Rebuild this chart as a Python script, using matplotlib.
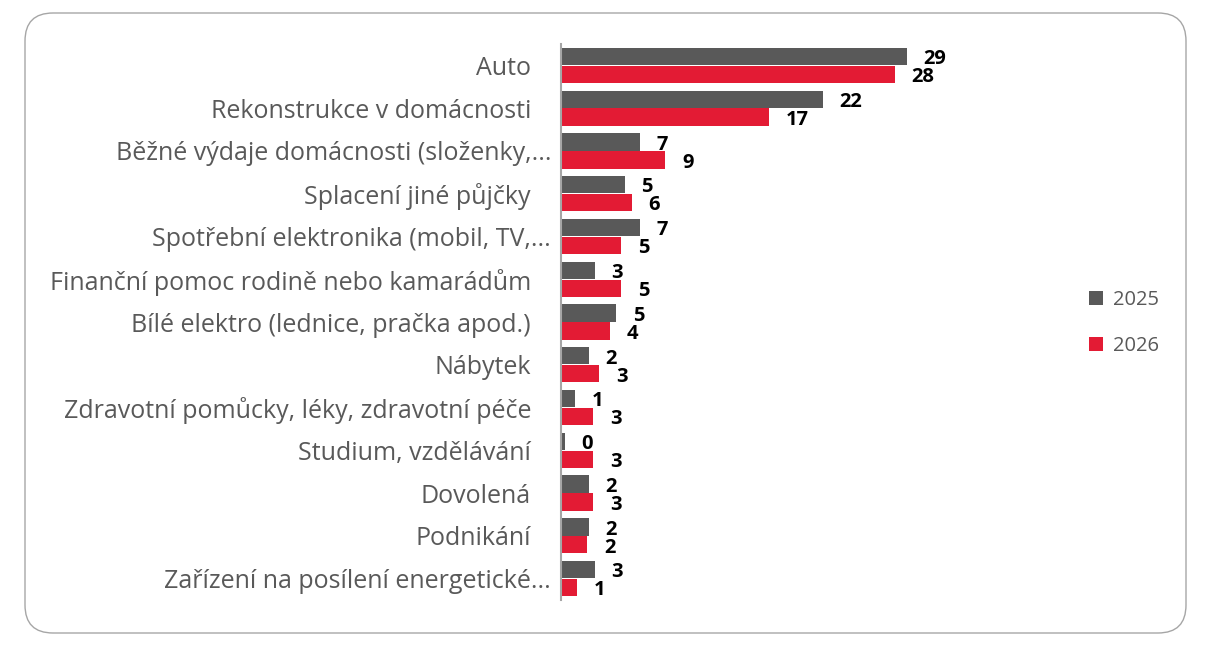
import matplotlib
matplotlib.use("Agg")
import matplotlib.pyplot as plt
from matplotlib.patches import FancyBboxPatch, Patch
from matplotlib.transforms import IdentityTransform
import numpy as np

categories = [
    "Auto",
    "Rekonstrukce v domácnosti",
    "Běžné výdaje domácnosti (složenky,...",
    "Splacení jiné půjčky",
    "Spotřební elektronika (mobil, TV,...",
    "Finanční pomoc rodině nebo kamarádům",
    "Bílé elektro (lednice, pračka apod.)",
    "Nábytek",
    "Zdravotní pomůcky, léky, zdravotní péče",
    "Studium, vzdělávání",
    "Dovolená",
    "Podnikání",
    "Zařízení na posílení energetické...",
]
values_2025 = [28.8, 21.8, 6.6, 5.3, 6.6, 2.8, 4.6, 2.3, 1.2, 0.3, 2.3, 2.3, 2.8]
values_2026 = [27.8, 17.3, 8.7, 5.9, 5.0, 5.0, 4.1, 3.2, 2.7, 2.7, 2.7, 2.2, 1.3]
series_names = ["2025", "2026"]

GRAY = "#595959"
RED = "#E31B34"
TEXT = "#595959"

W, H = 1216, 659
fig = plt.figure(figsize=(W / 100, H / 100), dpi=100)
fig.patch.set_facecolor("white")

# rounded border (pixel coordinates)
border = FancyBboxPatch((25, H - 633), 1186 - 25, 633 - 13,
                        boxstyle="round,pad=0,rounding_size=28",
                        transform=IdentityTransform(), facecolor="none",
                        edgecolor="#a6a6a6", linewidth=1.0)
fig.patches.append(border)

ax_left, ax_right = 561 / W, 1000 / W
ax_top, ax_bottom = 1 - 44 / H, 1 - 600 / H
ax = fig.add_axes([ax_left, ax_bottom, ax_right - ax_left, ax_top - ax_bottom])

y = np.arange(len(categories))
h = 0.405
b1 = ax.barh(y - 0.21, values_2025, height=h, color=GRAY, label=series_names[0])
b2 = ax.barh(y + 0.21, values_2026, height=h, color=RED, label=series_names[1])

ax.set_xlim(0, (1000 - 561) / 12.0)
ax.set_ylim(len(categories) - 0.5, -0.5)

for bars in (b1, b2):
    texts = ax.bar_label(bars, fmt="{:.0f}", padding=12, fontsize=14.5,
                         fontweight="bold", color="black", family="Open Sans")
    for t in texts:
        t.xyann = (t.xyann[0], -2)

for s in ["top", "right", "bottom"]:
    ax.spines[s].set_visible(False)
ax.spines["left"].set_color("#a6a6a6")
ax.spines["left"].set_linewidth(1.5)
ax.set_xticks([])
ax.set_yticks(y)
ax.set_yticklabels([])
ax.tick_params(axis="y", length=0)

for i, lab in enumerate(categories):
    x_off = -10 if lab.endswith("...") else -30
    ax.annotate(lab, xy=(0, i), xycoords=("axes fraction", "data"),
                xytext=(x_off, -3), textcoords="offset pixels",
                ha="right", va="center", fontsize=18, color=TEXT,
                family="Open Sans")

handles = [Patch(facecolor=GRAY), Patch(facecolor=RED)]
fig.legend(handles, series_names, loc="center left",
           bbox_to_anchor=(1071 / W, 1 - 323 / H), frameon=False,
           handlelength=0.7, handleheight=0.7, handletextpad=0.5,
           labelspacing=1.3, prop={"family": "Open Sans", "size": 14.5},
           labelcolor=TEXT)

fig.savefig("out.png", dpi=100)
